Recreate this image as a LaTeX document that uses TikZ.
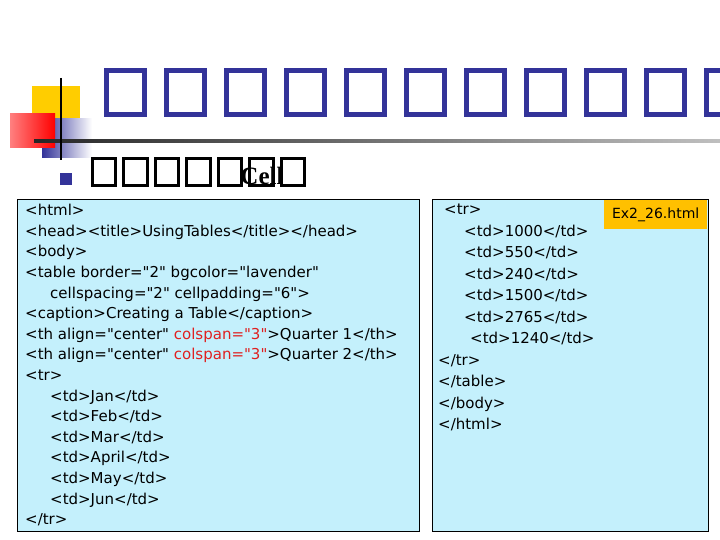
\documentclass[tikz,border=0pt]{standalone}
\usepackage{fontspec}
\setmainfont{DejaVu Sans}[Ligatures=TeXOff]
\newfontfamily\serifcell{Liberation Serif}
\begin{document}
\begin{tikzpicture}[x=1pt,y=-1pt,
  tofu/.style={draw=titleblue,line width=5pt},
  tofub/.style={draw=black,line width=3pt},
  codebox/.style={draw=black,line width=0.8pt,fill=codebg},
  code/.style={anchor=north west,align=left,inner sep=0pt,font=\fontsize{15}{20.6}\selectfont}]
\definecolor{titleblue}{HTML}{333399}
\definecolor{codebg}{HTML}{C4F0FC}
\definecolor{gold}{HTML}{FFC000}
\definecolor{redc}{HTML}{E02020}
\useasboundingbox (0,0) rectangle (720,540);
\fill[white] (0,0) rectangle (720,540);
% decoration
\fill[gold!80!yellow] (32,86) rectangle (80,120);
\shade[left color=titleblue, right color=white] (42,119) rectangle (92,158);
\shade[left color=red!50!white, right color=red] (10,114) rectangle (55,148);
\shade[left color=black!85, right color=black!25] (34,140) rectangle (720,143);
\draw[line width=2.5pt] (61,78) -- (61,160);
% title tofu
\foreach \i in {0,...,10} {\draw[tofu] (106.5+60*\i,70.5) rectangle (144.5+60*\i,114.5);}
% bullet and subtitle
\fill[titleblue] (60,173) rectangle (72,185);
\foreach \i in {0,...,6} {\draw[tofub] (92+31.5*\i,159) rectangle (115.5+31.5*\i,186);}
\node[font=\serifcell\bfseries\fontsize{25}{26}\selectfont,inner sep=0pt] (cell) at (262,176) {Cell};
% code boxes
\draw[codebox] (17,199) rectangle (419,531);
\draw[codebox] (432,199) rectangle (708,531);
\node[code] (left) at (25,204) {<html>\\
<head><title>UsingTables</title></head>\\
<body>\\
<table border="2" bgcolor="lavender"\\
\hspace*{25pt}cellspacing="2" cellpadding="6">\\
<caption>Creating a Table</caption>\\
<th align="center" \textcolor{redc}{colspan="3"}>Quarter 1</th>\\
<th align="center" \textcolor{redc}{colspan="3"}>Quarter 2</th>\\
<tr>\\
\hspace*{25pt}<td>Jan</td>\\
\hspace*{25pt}<td>Feb</td>\\
\hspace*{25pt}<td>Mar</td>\\
\hspace*{25pt}<td>April</td>\\
\hspace*{25pt}<td>May</td>\\
\hspace*{25pt}<td>Jun</td>\\
</tr>};
\node[code,font=\fontsize{15}{21.5}\selectfont] (right) at (438,204) {\hspace*{6pt}<tr>\\
\hspace*{26pt}<td>1000</td>\\
\hspace*{26pt}<td>550</td>\\
\hspace*{26pt}<td>240</td>\\
\hspace*{26pt}<td>1500</td>\\
\hspace*{26pt}<td>2765</td>\\
\hspace*{32pt}<td>1240</td>\\
</tr>\\
</table>\\
</body>\\
</html>};
\node[fill=gold,minimum width=103pt,minimum height=29pt,inner sep=0pt,anchor=north west,font=\fontsize{14}{15}\selectfont] (file) at (604,200) {Ex2\_26.html};
\end{tikzpicture}
\end{document}
